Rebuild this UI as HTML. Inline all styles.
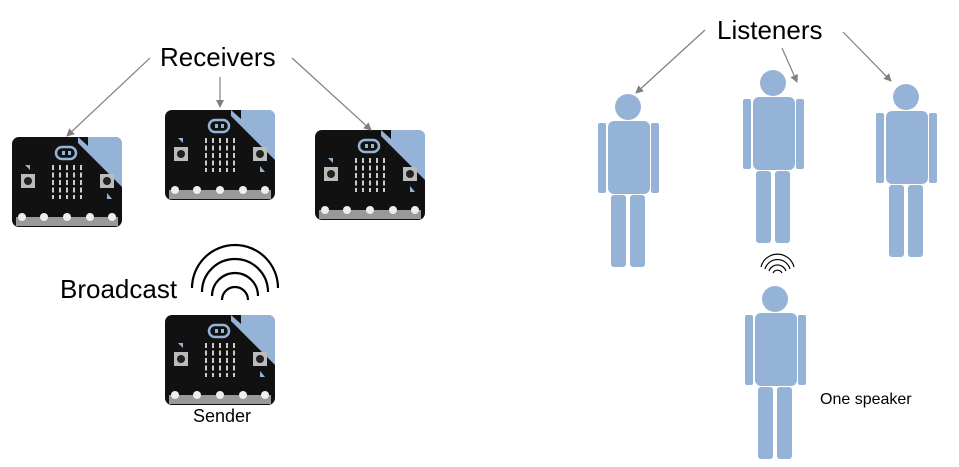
<!DOCTYPE html>
<html><head><meta charset="utf-8"><style>
html,body{margin:0;padding:0;background:#fff;}
svg{display:block;font-family:"Liberation Sans",Arial,sans-serif;}
</style></head><body>
<svg width="959" height="467" viewBox="0 0 959 467" xmlns="http://www.w3.org/2000/svg">
<defs>
<marker id="ah" markerWidth="8" markerHeight="8" refX="7" refY="4" orient="auto" markerUnits="userSpaceOnUse">
<path d="M0,0 L8,4 L0,8 z" fill="#7f7f7f"/></marker>
<g id="mb">
<rect x="0" y="0" width="110" height="90" rx="7" fill="#111"/>
<path d="M60,0 L103,0 Q110,0 110,7 L110,50 Z" fill="#95b3d7"/>
<path d="M58,0 L66,0 L66,8 Z M66,0 L76,0 L76,9 Z" fill="#111"/>
<rect x="44" y="10" width="20" height="12" rx="6" fill="none" stroke="#95b3d7" stroke-width="2.5"/>
<rect x="50" y="14" width="3" height="4" fill="#95b3d7"/><rect x="56" y="14" width="3" height="4" fill="#95b3d7"/>
<g stroke="#ccc" stroke-width="2" stroke-dasharray="5,2.5">
<line x1="41" y1="28" x2="41" y2="62"/><line x1="48" y1="28" x2="48" y2="62"/><line x1="55" y1="28" x2="55" y2="62"/><line x1="62" y1="28" x2="62" y2="62"/><line x1="69" y1="28" x2="69" y2="62"/>
</g>
<rect x="9" y="37" width="14" height="14" fill="#bbb"/><circle cx="16" cy="44" r="4" fill="#222"/>
<rect x="88" y="37" width="14" height="14" fill="#bbb"/><circle cx="95" cy="44" r="4" fill="#222"/>
<path d="M13,28 l5,0 l0,5 z" fill="#95b3d7"/><path d="M95,56 l5,6 l-5,0 z" fill="#95b3d7"/>
<rect x="4" y="80" width="102" height="9" fill="#999"/>
<g fill="#eee"><circle cx="10" cy="80" r="4"/><circle cx="32" cy="80" r="4"/><circle cx="55" cy="80" r="4"/><circle cx="78" cy="80" r="4"/><circle cx="100" cy="80" r="4"/></g>
</g>
<g id="p" fill="#95b3d7">
<circle cx="30" cy="13" r="13"/>
<rect x="10" y="27" width="42" height="73" rx="6"/>
<rect x="0" y="29" width="8" height="70" rx="2"/><rect x="53" y="29" width="8" height="70" rx="2"/>
<rect x="13" y="101" width="15" height="72" rx="3"/><rect x="32" y="101" width="15" height="72" rx="3"/>
</g>
</defs>
<use href="#mb" x="12" y="137"/>
<use href="#mb" x="165" y="110"/>
<use href="#mb" x="315" y="130"/>
<use href="#mb" x="165" y="315"/>
<use href="#p" x="598" y="94"/>
<use href="#p" x="743" y="70"/>
<use href="#p" x="876" y="84"/>
<use href="#p" x="745" y="286"/>
<g stroke="#7f7f7f" stroke-width="1.2" marker-end="url(#ah)">
<line x1="150" y1="58" x2="67" y2="136"/>
<line x1="220" y1="77" x2="220" y2="107"/>
<line x1="292" y1="58" x2="371" y2="130"/>
<line x1="705" y1="30" x2="636" y2="93"/>
<line x1="782" y1="48" x2="797" y2="82"/>
<line x1="843" y1="32" x2="891" y2="81"/>
</g>
<g fill="none" stroke="#000" stroke-width="2.2">
<path d="M222,300 A13,13 0 0 1 248,300"/>
<path d="M212,296 A23,23 0 0 1 258,296"/>
<path d="M202,292 A33,33 0 0 1 268,292"/>
<path d="M192,288 A43,43 0 0 1 278,288"/>
</g>
<g fill="none" stroke="#000" stroke-width="1.2">
<path d="M773,273 A5,5 0 0 1 782,273"/>
<path d="M769,271 A9,9 0 0 1 786,271"/>
<path d="M765,269 A13,13 0 0 1 790,269"/>
<path d="M761,267 A17,17 0 0 1 794,267"/>
</g>
<text x="160" y="66" font-size="26">Receivers</text>
<text x="717" y="39" font-size="26">Listeners</text>
<text x="60" y="298" font-size="26">Broadcast</text>
<text x="222" y="422" font-size="18" text-anchor="middle">Sender</text>
<text x="820" y="404" font-size="16">One speaker</text>
</svg>
</body></html>
